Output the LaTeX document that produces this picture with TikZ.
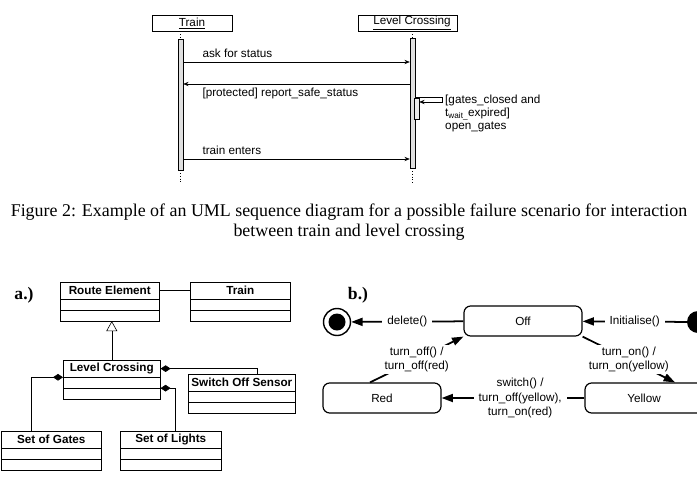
\documentclass[tikz,border=0pt]{standalone}
\usepackage{fontspec}
\setmainfont{Liberation Serif}
\setsansfont{Liberation Sans}
\usetikzlibrary{arrows.meta,positioning}

\tikzset{
  sf/.style={font=\sffamily\fontsize{10}{12}\selectfont},
  actor/.style={draw, sf, minimum height=4.8mm, inner sep=0pt},
  bar/.style={draw, fill=gray!25, minimum width=1.5mm, inner sep=0pt},
  msg/.style={-{Stealth[length=1.6mm,width=1.3mm]}, line width=0.5pt},
  lbl/.style={sf, inner sep=0pt},
  cname/.style={draw, line width=0.5pt, font=\sffamily\bfseries\fontsize{10}{12}\selectfont, minimum height=5mm, inner sep=0pt},
  cpart/.style={draw, line width=0.5pt, minimum height=3.1mm, inner sep=0pt},
  comp/.style={{Diamond[length=3mm,width=2mm]}-, line width=0.5pt},
  state/.style={draw, sf, rounded corners=2mm, line width=1pt, minimum width=35.4mm, minimum height=9mm},
  trans/.style={-{Triangle[length=3.4mm,width=2.4mm]}, line width=1.5pt},
  tlbl/.style={sf, fill=white, align=center, inner xsep=1.5mm, inner ysep=0.5mm},
  tag/.style={font=\bfseries\fontsize{15}{18}\selectfont}
}

% class box with three compartments
\newcommand{\umlclass}[4]{%
  \node[cname, minimum width=#4, anchor=north west] (#1) at #2 {#3};
  \node[cpart, minimum width=#4, below=0pt of #1] (#1-a) {};
  \node[cpart, minimum width=#4, below=0pt of #1-a] (#1-b) {};
}

\begin{document}
\begin{tikzpicture}[x=0.3mm, y=-0.3mm]
  \clip (0,0) rectangle (697,485);

  % Sequence diagram
  \node[actor, minimum width=24mm] (train) at (192,23) {\underline{Train}\hspace{7.2mm}};
  \node[actor, minimum width=29.7mm] (lc) at (407.5,23) {\hspace{2.7mm}\underline{Level Crossing}};
  \node[bar, minimum height=39.3mm] (tbar) at (180.5,104.5) {};
  \node[bar, minimum height=39mm] (lcbar) at (412.5,103) {};
  \node[bar, fill=gray!15, minimum height=6.3mm] (sbar) at (416.5,108.5) {};
  \coordinate (tend) at (180.5,183);
  \coordinate (lcend) at (412.5,183);
  \draw[dotted] (train.south -| tbar) -- (tbar.north);
  \draw[dotted] (tbar.south) -- (tend);
  \draw[dotted] (lc.south -| lcbar) -- (lcbar.north);
  \draw[dotted] (lcbar.south) -- (lcend);

  \coordinate (m1) at (0,62);
  \coordinate (m2) at (0,84);
  \coordinate (m3) at (0,159);
  \coordinate (sx) at (442,97);
  \coordinate (s2) at (0,102);
  \draw[msg] (tbar.east |- m1) -- (lcbar.west |- m1)
    node[lbl, at start, anchor=south west, xshift=5.7mm, yshift=1.2mm] {ask for status};
  \draw[msg] (lcbar.west |- m2) -- (tbar.east |- m2)
    node[lbl, at end, anchor=north west, xshift=5.7mm, yshift=-1.1mm] {[protected] report\_safe\_status};
  \draw[msg] (lcbar.east |- sx) -- (sx) |- (sbar.east |- s2);
  \node[lbl, align=left, font=\sffamily\fontsize{10}{11}\selectfont, anchor=north west] (guard) at (445,95)
    {[gates\_closed and\\t\textsubscript{wait\_}expired]\\open\_gates};
  \draw[msg] (tbar.east |- m3) -- (lcbar.west |- m3)
    node[lbl, at start, anchor=south west, xshift=5.7mm, yshift=1.2mm] {train enters};

  % Caption
  \node[align=center, font=\fontsize{15.3}{17.5}\selectfont] (cap) at (349,222)
    {Figure 2: Example of an UML sequence diagram for a possible failure scenario for interaction\\
     between train and level crossing};

  % a.) class diagram
  \node[tag] (taga) at (24,295) {a.)};
  \umlclass{route}{(60,282)}{Route Element}{29.7mm}
  \umlclass{trainc}{(190,282)}{Train}{30mm}
  \umlclass{lcc}{(63,360)}{Level Crossing}{29.1mm}
  \umlclass{sos}{(188,374)}{Switch Off Sensor}{32.1mm}
  \umlclass{gates}{(1,431)}{Set of Gates}{30mm}
  \umlclass{lights}{(120,431)}{Set of Lights}{30.3mm}
  \draw[line width=0.5pt] (route) -- (trainc);
  \draw[line width=0.5pt, -{Triangle[open,length=3mm,width=3.3mm]}] (lcc.north) -- (lcc.north |- route-b.south);
  \draw[comp] (lcc.east) -| ([xshift=4.65mm]sos.north);
  \draw[comp] (lcc-a.south east) -| ([xshift=1.35mm]lights.north);
  \draw[comp] (lcc.south west) -| ([xshift=-6mm]gates.north);

  % b.) state diagram
  \node[tag] (tagb) at (358,295) {b.)};
  \node[state] (off) at (523,321) {Off};
  \node[state] (red) at (382,398) {Red};
  \node[state] (yellow) at (644,398) {Yellow};
  \node[circle, draw, line width=1.2pt, minimum size=8.1mm, inner sep=0pt] (final) at (337,322) {};
  \node[circle, fill=black, minimum size=5.1mm, inner sep=0pt] (finaldot) at (final) {};
  \node[circle, fill=black, minimum size=6.6mm, inner sep=0pt] (init) at (698,322) {};
  \draw[trans] (init) -- node[tlbl] {Initialise()} (off);
  \draw[trans] (off) -- node[tlbl] {delete()} (final);
  \draw[trans] (yellow) -- node[tlbl, pos=0.45] {switch() /\\turn\_off(yellow),\\turn\_on(red)} (red);
  \draw[trans] (off.south east) -- node[tlbl] {turn\_on() /\\turn\_on(yellow)} ([xshift=9.3mm]yellow.north);
  \draw[trans] ([xshift=-3.6mm]red.north) -- node[tlbl] {turn\_off() /\\turn\_off(red)} (off.south west);
\end{tikzpicture}
\end{document}
